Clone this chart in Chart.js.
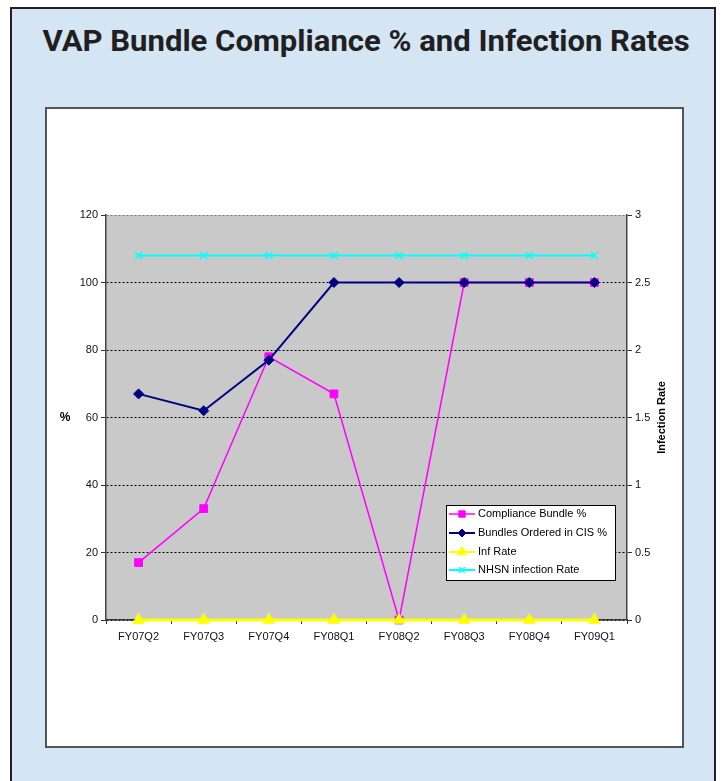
<!DOCTYPE html>
<html>
<head>
<meta charset="utf-8">
<script src="https://cdn.jsdelivr.net/npm/chart.js@4.4.1/dist/chart.umd.min.js"></script>
<style>
  html, body { margin: 0; padding: 0; background: #fff; }
  body { width: 722px; height: 781px; position: relative; overflow: hidden; }
  #frame {
    position: absolute; left: 10px; top: 7px; width: 706px; height: 800px;
    box-sizing: border-box; background: #d4e5f4;
    border: 2px solid #231f20; border-bottom: none;
  }
  #title {
    position: absolute; left: 5px; top: 24px; width: 722px; text-align: center;
    font-family: Roboto, "Liberation Sans", sans-serif; font-weight: 700;
    font-size: 29px; color: #231f20; white-space: nowrap;
  }
  #title span { display: inline-block; transform-origin: center; }
  #panel {
    position: absolute; left: 45px; top: 107px; width: 639px; height: 641px;
    box-sizing: border-box; background: #fff; border: 2px solid #555;
  }
  #panel canvas { display: block; }
</style>
</head>
<body>
<div id="frame"></div>
<div id="title"><span>VAP Bundle Compliance % and Infection Rates</span></div>
<div id="panel"><canvas id="chart" width="635" height="637"></canvas></div>
<script>
'use strict';

// quarters on the x axis
const quarters = ['FY07Q2', 'FY07Q3', 'FY07Q4', 'FY08Q1', 'FY08Q2', 'FY08Q3', 'FY08Q4', 'FY09Q1'];

// left axis (%)
const complianceBundle = [17, 33, 78, 67, 0, 100, 100, 100];
const bundlesOrderedCIS = [67, 62, 77, 100, 100, 100, 100, 100];

// right axis (infection rate)
const infRate = [0, 0, 0, 0, 0, 0, 0, 0];
const nhsnRate = [2.7, 2.7, 2.7, 2.7, 2.7, 2.7, 2.7, 2.7];

const pctTicks = {min: 0, max: 120, step: 20};
const rateTicks = {min: 0, max: 3, step: 0.5};

// squeeze the title into the same width as the original
const titleSpan = document.querySelector('#title span');
titleSpan.style.transform = 'scaleX(' + (647 / titleSpan.offsetWidth) + ')';

Chart.defaults.font.family = "'Liberation Sans', Arial, sans-serif";
Chart.defaults.font.size = 11;
Chart.defaults.color = '#111';

const plotBackground = {
    id: 'plotBackground',
    beforeDraw (chart)
    {
        const {ctx, chartArea: a} = chart;
        ctx.save();
        ctx.fillStyle = '#c9c9c9';
        ctx.fillRect(a.left, a.top, a.right - a.left, a.bottom - a.top);
        ctx.restore();
    }
};

// "%" sits level, "Infection Rate" reads bottom to top
const axisTitles = {
    id: 'axisTitles',
    afterDraw (chart)
    {
        const {ctx, chartArea: a} = chart;
        const midY = (a.top + a.bottom) / 2;
        ctx.save();
        ctx.fillStyle = '#000';
        ctx.font = "bold 12px 'Liberation Sans', Arial, sans-serif";
        ctx.textAlign = 'center';
        ctx.textBaseline = 'middle';
        ctx.fillText('%', a.left - 41, midY);
        ctx.font = "bold 11px 'Liberation Sans', Arial, sans-serif";
        ctx.translate(a.right + 35, midY);
        ctx.rotate(-Math.PI / 2);
        ctx.fillText('Infection Rate', 0, 0);
        ctx.restore();
    }
};

// boxed legend inside the plot, lower right
const boxLegend = {
    id: 'boxLegend',
    afterDraw (chart)
    {
        const {ctx, chartArea: a} = chart;
        const x0 = a.left + 340, y0 = a.top + 290, w = 169, h = 75;
        const rows = [9, 28, 47, 65];
        ctx.save();
        ctx.fillStyle = '#fff';
        ctx.fillRect(x0, y0, w, h);
        ctx.strokeStyle = '#000';
        ctx.lineWidth = 1;
        ctx.strokeRect(x0 + 0.5, y0 + 0.5, w, h);
        chart.data.datasets.forEach((ds, i) =>
        {
            const y = y0 + rows[i];
            ctx.strokeStyle = ds.borderColor;
            ctx.lineWidth = Math.min(ds.borderWidth, 2);
            ctx.beginPath();
            ctx.moveTo(x0 + 3, y);
            ctx.lineTo(x0 + 29, y);
            ctx.stroke();
            ctx.fillStyle = ds.pointBackgroundColor;
            ctx.strokeStyle = ds.pointBorderColor;
            ctx.lineWidth = ds.pointBorderWidth;
            Chart.helpers.drawPoint(ctx, {
                pointStyle: ds.pointStyle,
                radius: ds.pointRadius - 1,
                rotation: 0,
                borderWidth: ds.pointBorderWidth
            }, x0 + 16, y);
            ctx.fillStyle = '#000';
            ctx.font = "11px 'Liberation Sans', Arial, sans-serif";
            ctx.textAlign = 'left';
            ctx.textBaseline = 'middle';
            ctx.fillText(ds.label, x0 + 32, y);
        });
        ctx.restore();
    }
};

function series (label, data, color, axis, style, radius, lineWidth, order)
{
    return {
        label,
        data,
        yAxisID: axis,
        borderColor: color,
        backgroundColor: color,
        borderWidth: lineWidth,
        pointStyle: style,
        pointRadius: radius,
        pointBackgroundColor: color,
        pointBorderColor: color,
        pointBorderWidth: style === 'crossRot' ? 1.5 : 1,
        tension: 0,
        clip: false,
        order
    };
}

new Chart(document.getElementById('chart'), {
    type: 'line',
    data: {
        labels: quarters,
        datasets: [
            series('Compliance Bundle %', complianceBundle, '#ff00ff', 'y', 'rect', 5.5, 1.5, 4),
            series('Bundles Ordered in CIS %', bundlesOrderedCIS, '#000080', 'y', 'rectRot', 5, 2, 3),
            series('Inf Rate', infRate, '#ffff00', 'y1', 'triangle', 6.5, 3, 2),
            series('NHSN infection Rate', nhsnRate, '#00ffff', 'y1', 'crossRot', 5, 2, 1)
        ]
    },
    options: {
        responsive: false,
        animation: false,
        events: [],
        layout: {padding: {left: 19, right: 20, top: 106, bottom: 96}},
        plugins: {legend: {display: false}, tooltip: {enabled: false}},
        scales: {
            x: {
                offset: true,
                afterFit: (s) => { s.height = 30; },
                grid: {offset: true, drawOnChartArea: false, tickLength: 4, color: '#333'},
                border: {color: '#333', width: 1.5},
                ticks: {padding: 6, color: '#111', maxRotation: 0}
            },
            y: {
                position: 'left',
                min: pctTicks.min,
                max: pctTicks.max,
                afterFit: (s) => { s.width = 40; },
                grid: {
                    color: (c) => c.tick && c.tick.value === pctTicks.max ? '#777' : '#000',
                    tickLength: 5, tickColor: '#333', lineWidth: 1
                },
                border: {color: '#444', width: 1.5, dash: [2, 2]},
                ticks: {stepSize: pctTicks.step, padding: 3, color: '#111'}
            },
            y1: {
                position: 'right',
                min: rateTicks.min,
                max: rateTicks.max,
                afterFit: (s) => { s.width = 35; },
                grid: {drawOnChartArea: false, tickLength: 5, color: '#333'},
                border: {color: '#444', width: 1.5},
                ticks: {stepSize: rateTicks.step, padding: 3, color: '#111', callback: (v) => String(v)}
            }
        }
    },
    plugins: [plotBackground, axisTitles, boxLegend]
});
</script>
</body>
</html>
